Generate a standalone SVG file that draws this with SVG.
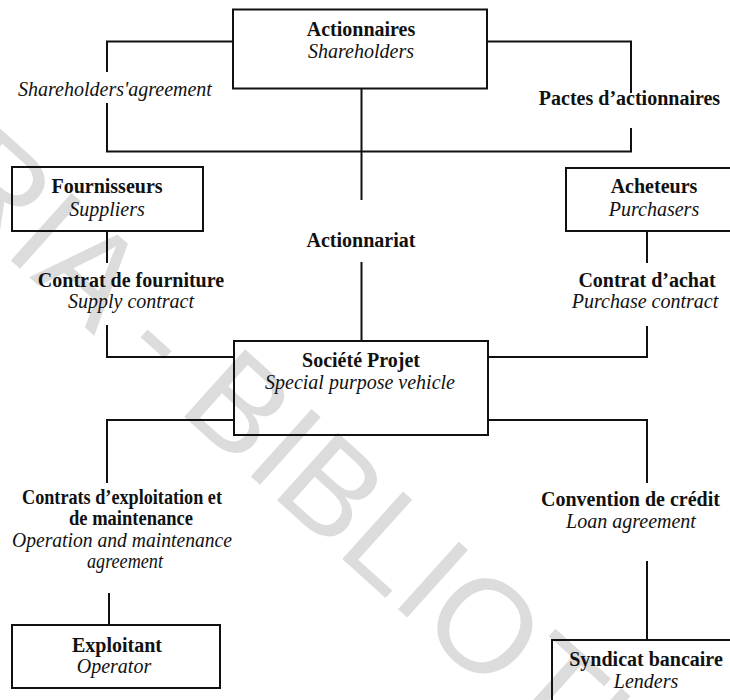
<svg xmlns="http://www.w3.org/2000/svg" width="730" height="700" viewBox="0 0 730 700">
  <style>
    .box { fill: none; stroke: #111; stroke-width: 2; }
    .ln { fill: none; stroke: #111; stroke-width: 2; }
    .b { font-family: "Liberation Serif", "Times New Roman", serif; font-weight: bold; font-size: 20px; fill: #111; text-anchor: middle; }
    .i { font-family: "Liberation Serif", "Times New Roman", serif; font-style: italic; font-size: 20px; fill: #111; text-anchor: middle; }
    .wm { font-family: "Liberation Sans", Arial, sans-serif; font-size: 132px; fill: #dcdcdc; }
  </style>
  <rect width="730" height="700" fill="#fff"/>

  <!-- library stamp across the page -->
  <g id="watermark">
    <text class="wm" transform="translate(138,375) rotate(42)" x="-748" y="0">CODESRIA - BIBLIOTHEQUE</text>
  </g>

  <!-- connectors -->
  <g id="connectors">
    <!-- shareholders' agreement loop -->
    <polyline class="ln" points="233,41.5 107,41.5 107,72"/>
    <polyline class="ln" points="107,103 107,151.5 631,151.5 631,128"/>
    <polyline class="ln" points="487,41.5 631,41.5 631,93"/>
    <!-- shareholding -->
    <line class="ln" x1="361.5" y1="88" x2="361.5" y2="200"/>
    <line class="ln" x1="361.5" y1="262" x2="361.5" y2="341"/>
    <!-- supply contract -->
    <line class="ln" x1="107" y1="231" x2="107" y2="263"/>
    <polyline class="ln" points="107,325 107,357 234,357"/>
    <!-- purchase contract -->
    <line class="ln" x1="647" y1="231" x2="647" y2="263"/>
    <polyline class="ln" points="647,326 647,357 488,357"/>
    <!-- O&M agreement -->
    <polyline class="ln" points="234,420 107,420 107,483"/>
    <line class="ln" x1="109" y1="593" x2="109" y2="625"/>
    <!-- loan agreement -->
    <polyline class="ln" points="488,420 647,420 647,483"/>
    <line class="ln" x1="647" y1="561" x2="647" y2="640"/>
  </g>

  <!-- connector labels -->
  <g id="labels">
    <text class="i" x="115" y="96">Shareholders'agreement</text>
    <text class="b" x="629.5" y="105">Pactes d’actionnaires</text>
    <text class="b" x="361" y="247">Actionnariat</text>
    <text class="b" x="131" y="287">Contrat de fourniture</text>
    <text class="i" x="131" y="308">Supply contract</text>
    <text class="b" x="647" y="287">Contrat d’achat</text>
    <text class="i" x="645" y="308">Purchase contract</text>
    <text class="b" x="122" y="504" textLength="200" lengthAdjust="spacingAndGlyphs">Contrats d’exploitation et</text>
    <text class="b" x="131" y="525" textLength="124" lengthAdjust="spacingAndGlyphs">de maintenance</text>
    <text class="i" x="122" y="547" textLength="220" lengthAdjust="spacingAndGlyphs">Operation and maintenance</text>
    <text class="i" x="125" y="568" textLength="76" lengthAdjust="spacingAndGlyphs">agreement</text>
    <text class="b" x="630.5" y="506">Convention de crédit</text>
    <text class="i" x="631" y="528">Loan agreement</text>
  </g>

  <!-- nodes -->
  <g id="actionnaires">
    <rect class="box" x="233" y="9.5" width="254" height="79"/>
    <text class="b" x="361" y="36">Actionnaires</text>
    <text class="i" x="361" y="58">Shareholders</text>
  </g>
  <g id="fournisseurs">
    <rect class="box" x="12" y="167" width="191" height="64"/>
    <text class="b" x="107" y="193">Fournisseurs</text>
    <text class="i" x="107" y="216">Suppliers</text>
  </g>
  <g id="acheteurs">
    <rect class="box" x="566" y="168" width="180" height="63"/>
    <text class="b" x="654" y="193">Acheteurs</text>
    <text class="i" x="654" y="216">Purchasers</text>
  </g>
  <g id="societe-projet">
    <rect class="box" x="234" y="341" width="254" height="94"/>
    <text class="b" x="361" y="367">Société Projet</text>
    <text class="i" x="360" y="389">Special purpose vehicle</text>
  </g>
  <g id="exploitant">
    <rect class="box" x="12" y="625" width="208" height="63"/>
    <text class="b" x="117" y="652">Exploitant</text>
    <text class="i" x="114" y="673">Operator</text>
  </g>
  <g id="syndicat-bancaire">
    <rect class="box" x="552" y="640" width="190" height="70"/>
    <text class="b" x="646" y="666">Syndicat bancaire</text>
    <text class="i" x="646" y="688">Lenders</text>
  </g>
</svg>
